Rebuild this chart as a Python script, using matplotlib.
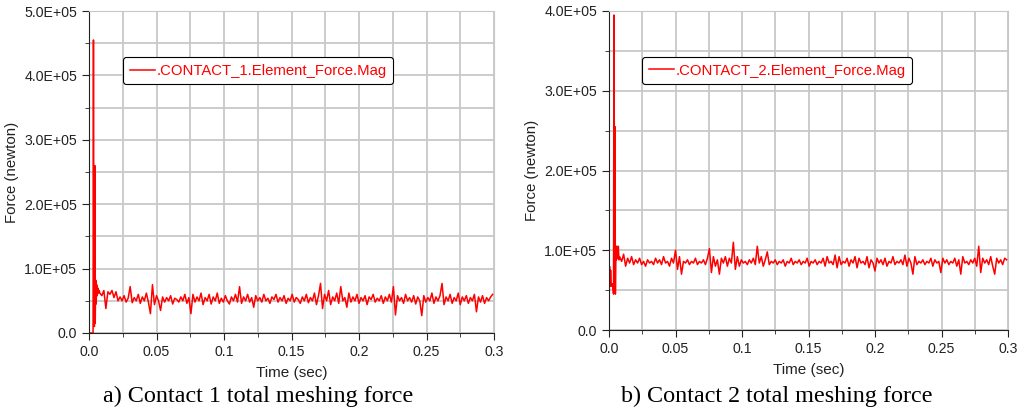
import numpy as np
import matplotlib
matplotlib.use('Agg')
import matplotlib.pyplot as plt
from matplotlib.ticker import MultipleLocator, FuncFormatter

plt.rcParams['font.family'] = 'Liberation Sans'

# ---- datos (fuerza en unidades de 1E+05 N) ----
# contacto 1: transitorio inicial
t1_ini = [0.0, 0.0030, 0.0033, 0.0036, 0.0040, 0.0043, 0.0046, 0.0050, 0.0053,
          0.0057, 0.0061, 0.0065, 0.0070, 0.0075]
f1_ini = [0.0, 0.0, 4.55, 0.3, 0.1, 2.6, 0.15, 0.82, 0.45, 0.75, 0.58, 0.70, 0.62, 0.66]
# contacto 1: regimen (t = 0.008 + 0.0015*i)
f1_reg = [0.62, 0.58, 0.66, 0.38, 0.64, 0.60, 0.66, 0.55, 0.64, 0.50,
          0.56, 0.50, 0.58, 0.48, 0.54, 0.72, 0.47, 0.55, 0.50, 0.60,
          0.46, 0.56, 0.50, 0.62, 0.48, 0.30, 0.75, 0.44, 0.58, 0.50,
          0.35, 0.56, 0.48, 0.55, 0.50, 0.58, 0.45, 0.54, 0.52, 0.48,
          0.56, 0.50, 0.60, 0.46, 0.55, 0.30, 0.60, 0.48, 0.56, 0.50,
          0.62, 0.44, 0.55, 0.50, 0.60, 0.45, 0.56, 0.50, 0.62, 0.46,
          0.54, 0.48, 0.58, 0.50, 0.45, 0.56, 0.50, 0.60, 0.48, 0.72,
          0.46, 0.56, 0.50, 0.60, 0.48, 0.55, 0.40, 0.58, 0.50, 0.55,
          0.48, 0.60, 0.50, 0.54, 0.46, 0.56, 0.52, 0.60, 0.48, 0.55,
          0.50, 0.58, 0.46, 0.54, 0.50, 0.60, 0.48, 0.55, 0.52, 0.46,
          0.56, 0.50, 0.60, 0.47, 0.55, 0.50, 0.62, 0.44, 0.58, 0.77,
          0.38, 0.60, 0.50, 0.66, 0.44, 0.56, 0.50, 0.62, 0.46, 0.72,
          0.50, 0.55, 0.40, 0.62, 0.48, 0.56, 0.50, 0.60, 0.46, 0.55,
          0.50, 0.58, 0.44, 0.56, 0.52, 0.60, 0.48, 0.54, 0.50, 0.58,
          0.46, 0.56, 0.50, 0.60, 0.48, 0.72, 0.28, 0.58, 0.50, 0.55,
          0.46, 0.60, 0.50, 0.55, 0.48, 0.58, 0.45, 0.56, 0.50, 0.27,
          0.58, 0.48, 0.55, 0.50, 0.62, 0.46, 0.56, 0.50, 0.58, 0.77,
          0.44, 0.56, 0.50, 0.60, 0.46, 0.55, 0.50, 0.62, 0.44, 0.56,
          0.50, 0.58, 0.46, 0.55, 0.50, 0.60, 0.33, 0.56, 0.48, 0.58,
          0.46, 0.55, 0.50, 0.56, 0.60]

# contacto 2: transitorio inicial
t2_ini = [0.0, 0.0004, 0.0008, 0.0012, 0.0018, 0.0024, 0.0030, 0.0034, 0.0037,
          0.0041, 0.0045, 0.0048, 0.0052, 0.0056, 0.0060, 0.0065, 0.0070, 0.0075]
f2_ini = [0.1, 0.8, 0.55, 0.75, 0.55, 0.58, 0.52, 0.45, 3.95, 0.55, 2.55, 0.45,
          1.05, 0.88, 1.05, 0.9, 1.05, 0.88]
# contacto 2: regimen
f2_reg = [0.92, 0.86, 0.95, 0.80, 0.90, 0.84, 0.92, 0.82, 0.88, 0.84,
          0.90, 0.82, 0.86, 0.80, 0.88, 0.84, 0.86, 0.82, 0.90, 0.84,
          0.88, 0.82, 0.92, 0.84, 0.86, 0.80, 0.90, 0.84, 1.00, 0.76,
          0.92, 0.70, 0.86, 0.84, 0.88, 0.82, 0.86, 0.84, 0.90, 0.82,
          0.86, 0.84, 0.88, 0.82, 0.90, 1.02, 0.72, 0.92, 0.80, 0.88,
          0.70, 0.90, 0.84, 0.92, 0.80, 0.90, 0.84, 1.10, 0.76, 0.92,
          0.80, 0.88, 0.84, 0.86, 0.82, 0.88, 0.84, 0.90, 0.82, 1.05,
          0.84, 0.92, 0.80, 0.88, 0.98, 0.82, 0.86, 0.84, 0.88, 0.82,
          0.86, 0.84, 0.88, 0.80, 0.86, 0.84, 0.90, 0.82, 0.86, 0.84,
          0.88, 0.82, 0.86, 0.84, 0.90, 0.80, 0.86, 0.84, 0.88, 0.82,
          0.86, 0.84, 0.90, 0.80, 0.92, 0.84, 0.86, 0.82, 0.94, 0.78,
          0.92, 0.82, 0.86, 0.84, 0.90, 0.80, 0.88, 0.84, 0.92, 0.78,
          0.90, 0.84, 0.86, 0.82, 0.92, 0.78, 0.88, 0.84, 0.74, 0.90,
          0.84, 0.88, 0.82, 0.90, 0.80, 0.86, 0.84, 0.92, 0.82, 0.86,
          0.84, 0.88, 0.82, 0.94, 0.80, 0.90, 0.84, 0.70, 0.92, 0.82,
          0.86, 0.84, 0.88, 0.82, 0.86, 0.84, 0.90, 0.80, 0.88, 0.84,
          0.86, 0.72, 0.90, 0.84, 0.88, 0.82, 0.86, 0.84, 0.90, 0.80,
          0.88, 0.70, 0.92, 0.84, 0.86, 0.82, 0.88, 0.84, 0.90, 0.80,
          1.05, 0.72, 0.90, 0.84, 0.88, 0.82, 0.92, 0.80, 0.70, 0.90,
          0.84, 0.88, 0.82, 0.90, 0.88]

t_reg = 0.008 + 0.0015 * np.arange(len(f1_reg))

series = [
    (np.r_[t1_ini, t_reg], np.r_[f1_ini, f1_reg] * 1e5, 5e5,
     '.CONTACT_1.Element_Force.Mag', 'a) Contact 1 total meshing force'),
    (np.r_[t2_ini, t_reg], np.r_[f2_ini, f2_reg] * 1e5, 4e5,
     '.CONTACT_2.Element_Force.Mag', 'b) Contact 2 total meshing force'),
]

posiciones = [[89/1025, 1-333/412, 405/1025, 322/412],
              [609/1025, 1-330/412, 399/1025, 319/412]]
leg_pos = [(0.084, 0.857), (0.083, 0.856)]
caption_x = [258/1025, 777/1025]

fig = plt.figure(figsize=(10.25, 4.12), dpi=100)

def fmt_y(v, pos):
    if v == 0:
        return '0.0'
    return '%.1fE+05' % (v / 1e5)

def fmt_x(v, pos):
    if abs(v) < 1e-9:
        return '0.0'
    return ('%.3f' % v).rstrip('0')

for k, (t, f, ymax, nombre, titulo) in enumerate(series):
    ax = fig.add_axes(posiciones[k])
    ax.plot(t, f, color='red', linewidth=1.1, label=nombre)
    ax.set_xlim(0, 0.3)
    ax.set_ylim(0, ymax)
    ax.xaxis.set_major_locator(MultipleLocator(0.05))
    ax.xaxis.set_minor_locator(MultipleLocator(0.025))
    ax.yaxis.set_major_locator(MultipleLocator(1e5))
    ax.yaxis.set_minor_locator(MultipleLocator(0.5e5))
    ax.yaxis.set_major_formatter(FuncFormatter(fmt_y))
    ax.xaxis.set_major_formatter(FuncFormatter(fmt_x))
    ax.grid(True, which='both', color='#c8c8c8', linewidth=1.3)
    ax.set_axisbelow(True)
    ax.tick_params(which='both', direction='out', colors='#222222', labelsize=10.2)
    ax.tick_params(which='major', length=5)
    ax.tick_params(which='minor', length=3)
    for s in ['top', 'right']:
        ax.spines[s].set_color('#c8c8c8')
    for s in ['left', 'bottom']:
        ax.spines[s].set_color('#222222')
    ax.set_ylabel('Force (newton)', fontsize=10.8, color='#222222')
    ax.set_xlabel('Time (sec)', fontsize=11, color='#222222', labelpad=5)
    leg = ax.legend(loc='upper left', bbox_to_anchor=leg_pos[k], borderaxespad=0,
                    fontsize=10.7, handlelength=1.7, handletextpad=0.1,
                    fancybox=True, framealpha=1, edgecolor='black',
                    borderpad=0.45)
    leg.get_frame().set_linewidth(0.8)
    for txt in leg.get_texts():
        txt.set_color('red')
    fig.text(caption_x[k], 1 - 396/412, titulo, ha='center', va='center',
             fontsize=17.4, family='Liberation Serif')

fig.savefig('out.png', dpi=100)
